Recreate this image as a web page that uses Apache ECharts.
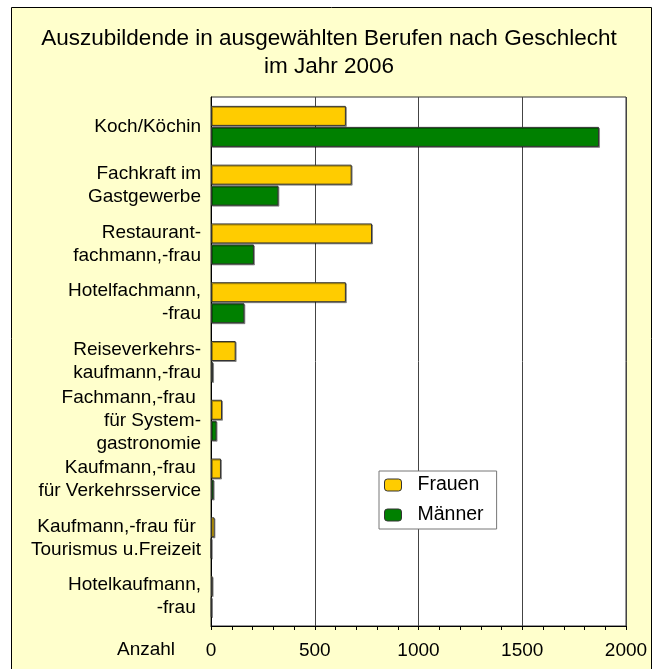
<!DOCTYPE html>
<html>
<head>
    <meta charset="utf-8">
    <title>Auszubildende 2006</title>
    <script src="https://cdn.jsdelivr.net/npm/echarts@6/dist/echarts.min.js"></script>
    <style>
        html, body {
            margin: 0;
            padding: 0;
            background: #fff;
        }
        #chart {
            width: 658px;
            height: 669px;
        }
    </style>
</head>
<body>
<div id="chart"></div>
<script>
    // Berufe (von oben nach unten)
    var categories = [
        'Koch/Köchin',
        'Fachkraft im\nGastgewerbe',
        'Restaurant-\nfachmann,-frau',
        'Hotelfachmann,\n-frau',
        'Reiseverkehrs-\nkaufmann,-frau',
        'Fachmann,-frau \nfür System-\ngastronomie',
        'Kaufmann,-frau \nfür Verkehrsservice',
        'Kaufmann,-frau für \nTourismus u.Freizeit',
        'Hotelkaufmann,\n-frau '
    ];
    var frauen = [650, 678, 776, 650, 119, 53, 48, 17, 8];
    var maenner = [1870, 325, 207, 161, 10, 27, 13, 1, 3];
    var xTicks = [0, 500, 1000, 1500, 2000];

    var font = 'Liberation Sans, Arial, sans-serif';
    var chart = echarts.init(document.getElementById('chart'));

    var barStyle = function (color) {
        return {
            color: color,
            borderColor: '#333',
            borderWidth: 1,
            shadowColor: 'rgba(0,0,0,0.35)',
            shadowOffsetX: 1,
            shadowOffsetY: 1
        };
    };

    var option = {
        backgroundColor: '#fff',
        animation: false,
        graphic: [
            {
                type: 'rect',
                z: -10,
                shape: { x: 11.5, y: 7.5, width: 640, height: 680 },
                style: { fill: '#FFFFCC', stroke: '#000', lineWidth: 1 }
            },
            {
                type: 'text',
                x: 117,
                y: 650,
                style: {
                    text: 'Anzahl',
                    font: '19px ' + font,
                    fill: '#000',
                    verticalAlign: 'middle'
                }
            }
        ],
        title: {
            text: 'Auszubildende in ausgewählten Berufen nach Geschlecht\nim Jahr 2006',
            left: 'center',
            top: 20,
            textStyle: {
                fontFamily: font,
                fontSize: 22.5,
                fontWeight: 'normal',
                color: '#000',
                lineHeight: 28
            }
        },
        legend: {
            orient: 'vertical',
            left: 379,
            top: 471,
            backgroundColor: '#fff',
            borderColor: '#777',
            borderWidth: 1,
            padding: [4, 13, 4, 5],
            itemWidth: 17,
            itemHeight: 12,
            itemGap: 10,
            textStyle: {
                fontFamily: font,
                fontSize: 19.5,
                color: '#000',
                lineHeight: 20,
                padding: [0, 0, 0, 11]
            },
            data: [
                { name: 'Frauen', itemStyle: { color: '#FFCC00', borderColor: '#333', borderWidth: 1 } },
                { name: 'Männer', itemStyle: { color: '#008000', borderColor: '#333', borderWidth: 1 } }
            ]
        },
        grid: {
            left: 211,
            right: 32,
            top: 97,
            bottom: 43,
            show: true,
            backgroundColor: '#fff',
            borderColor: '#333',
            borderWidth: 1
        },
        xAxis: {
            type: 'value',
            min: xTicks[0],
            max: xTicks[xTicks.length - 1],
            interval: 500,
            axisLine: { show: true, lineStyle: { color: '#000' } },
            axisTick: { show: true, length: 4, lineStyle: { color: '#000' } },
            minorTick: { show: true, splitNumber: 5, length: 4, lineStyle: { color: '#000' } },
            splitLine: { show: true, lineStyle: { color: '#444', width: 1 } },
            axisLabel: {
                fontFamily: font,
                fontSize: 19,
                color: '#000',
                margin: 15,
                formatter: function (v) { return String(v); }
            }
        },
        yAxis: {
            type: 'category',
            inverse: true,
            data: categories,
            axisLine: { show: true, lineStyle: { color: '#000' } },
            axisTick: { show: false },
            axisLabel: {
                fontFamily: font,
                fontSize: 19,
                color: '#000',
                lineHeight: 23,
                align: 'right',
                margin: 10
            }
        },
        series: [
            {
                name: 'Frauen',
                type: 'bar',
                data: frauen,
                barWidth: 20,
                barGap: '5%',
                itemStyle: barStyle('#FFCC00')
            },
            {
                name: 'Männer',
                type: 'bar',
                data: maenner,
                barWidth: 20,
                barGap: '5%',
                itemStyle: barStyle('#008000')
            }
        ]
    };

    chart.setOption(option);
</script>
</body>
</html>
